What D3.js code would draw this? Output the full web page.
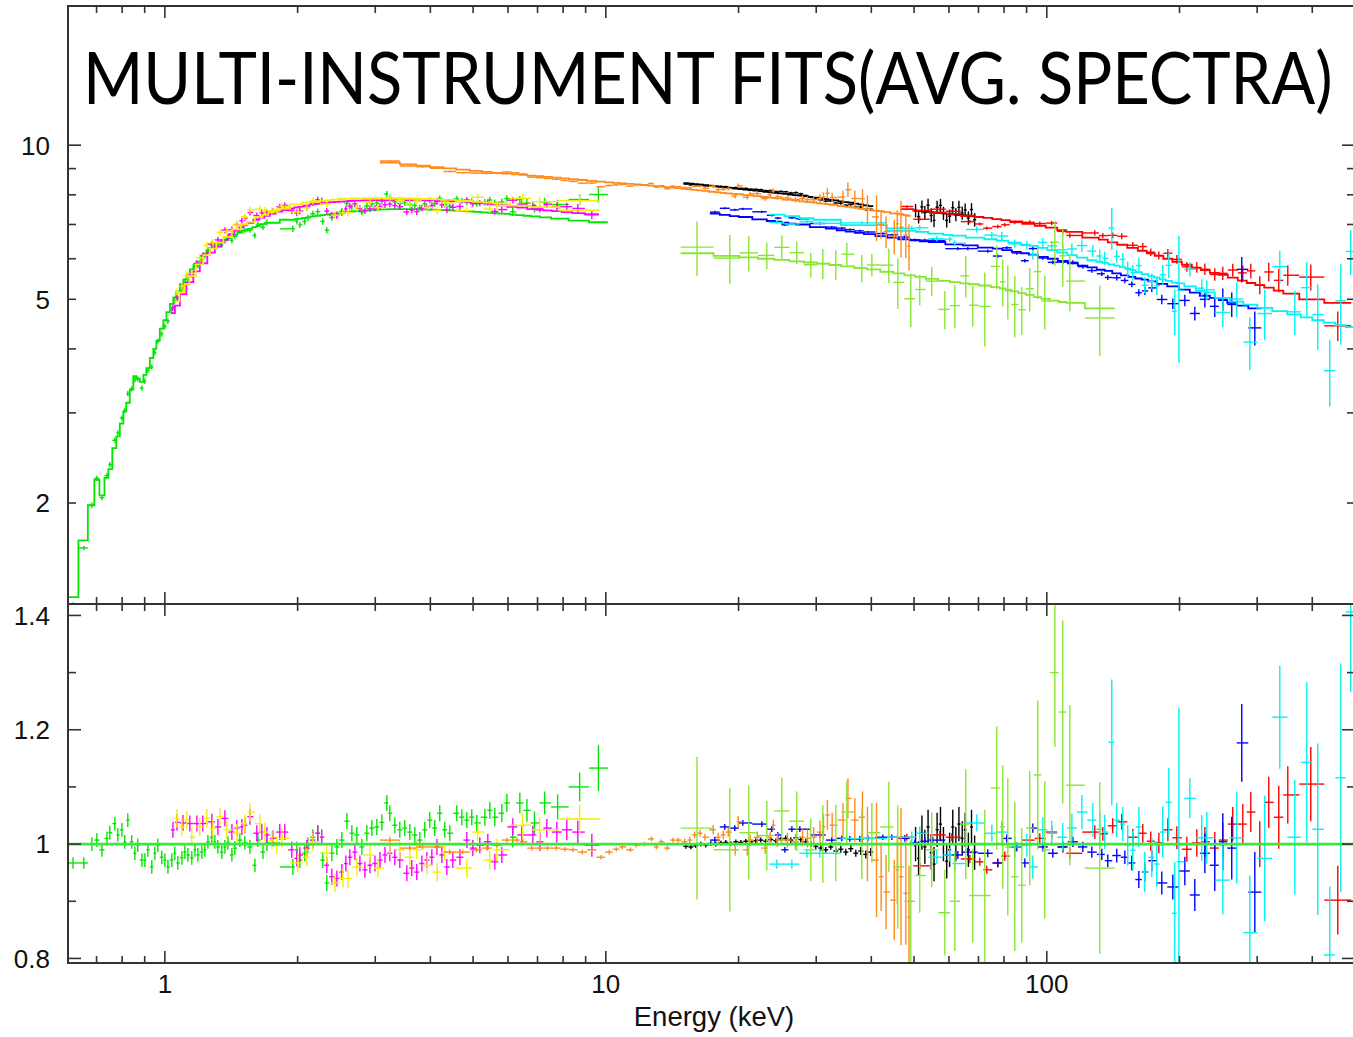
<!DOCTYPE html>
<html><head><meta charset="utf-8">
<script src="https://cdn.jsdelivr.net/npm/d3@7"></script>
<style>body{margin:0;background:#fff}svg{display:block}</style>
</head><body>
<svg id="c" width="1353" height="1037"></svg>
<script>
// ---------------- DATA ----------------
// tick values / labels
const xMajorTicks = [1, 10, 100];
const xMinorTicks = [0.7,0.8,0.9,2,3,4,5,6,7,8,9,20,30,40,50,60,70,80,90,200,300,400];
const xTickLabels = ["1", "10", "100"];
const yTopMajorTicks = [10];
const yTopMinorTicks = [2,3,4,5,6,7,8,9];
const yTopLabelValues = [2, 5, 10];
const yTopLabels = ["2", "5", "10"];
const yBotMajorTicks = [0.8, 1.0, 1.2, 1.4];
const yBotMinorTicks = [0.9, 1.1, 1.3];
const yBotLabels = ["0.8", "1", "1.2", "1.4"];
const titleText = "MULTI-INSTRUMENT FITS(AVG. SPECTRA)";
const xTitle = "Energy (keV)";

// low-energy green
const greenE = [0.619,0.655,0.683,0.701,0.720,0.739,0.750,0.770,0.782,0.799,
0.811,0.824,0.841,0.855,0.868,0.887,0.901,0.915,0.934,0.949,
0.964,0.984,1.000,1.016,1.037,1.053,1.070,1.093,1.110,1.128,
1.151,1.170,1.188,1.213,1.232,1.252,1.278,1.298,1.319,1.346,
1.368,1.390,1.419,1.441,1.479,1.518,1.559,1.600,1.625,1.669,
1.704,1.951,1.992,2.023,2.076,2.110,2.166,2.222,2.281,2.329,
2.391,2.455,2.520,2.587,2.655,2.725,2.797,2.871,2.947,3.025,
3.105,3.187,3.237,3.323,3.410,3.500,3.593,3.688,3.785,3.885,
3.988,4.093,4.201,4.312,4.426,4.592,4.714,4.838,4.966,5.097,
5.316,5.456,5.600,5.810,5.963,6.151,6.383,6.623,6.888,7.264,
7.775,8.723,9.620];
const greenRatio = [0.967,0.967,1.000,1.007,0.990,1.010,1.020,1.036,1.016,1.025,
1.004,1.042,1.004,0.984,0.998,0.972,0.972,0.990,0.960,0.984,
0.998,0.977,0.972,0.960,0.972,0.984,0.967,0.976,0.986,0.981,
0.976,0.990,0.981,0.986,0.990,1.004,1.012,1.004,0.995,0.986,
0.995,1.002,0.981,0.993,1.007,1.002,0.995,0.963,1.007,0.986,
1.002,0.960,0.990,0.972,0.984,0.998,1.012,1.019,0.972,0.932,
0.984,0.995,1.007,1.040,1.019,1.016,0.995,1.019,1.028,1.030,
1.038,1.072,1.054,1.033,1.025,1.028,1.021,1.016,1.007,1.025,
1.042,1.028,1.054,1.025,1.019,1.054,1.047,1.042,1.047,1.037,
1.047,1.059,1.047,1.054,1.072,1.012,1.072,1.059,1.037,1.072,
1.065,1.100,1.133];
const greenErr = [0.010,0.010,0.012,0.012,0.012,0.012,0.012,0.012,0.012,0.012,
0.012,0.012,0.012,0.012,0.012,0.012,0.012,0.012,0.012,0.012,
0.012,0.012,0.012,0.012,0.012,0.012,0.012,0.012,0.012,0.012,
0.012,0.012,0.012,0.012,0.012,0.012,0.012,0.012,0.012,0.012,
0.012,0.012,0.012,0.012,0.012,0.012,0.012,0.012,0.012,0.012,
0.014,0.014,0.014,0.014,0.014,0.014,0.014,0.014,0.014,0.014,
0.014,0.014,0.014,0.014,0.014,0.014,0.014,0.014,0.014,0.014,
0.014,0.014,0.014,0.014,0.014,0.014,0.014,0.014,0.014,0.014,
0.014,0.014,0.014,0.014,0.014,0.014,0.014,0.014,0.014,0.014,
0.015,0.015,0.016,0.016,0.016,0.018,0.018,0.020,0.020,0.020,
0.022,0.025,0.040];
const greenModel = [1.31,1.69,1.98,2.22,2.07,2.24,2.33,2.56,2.70,2.86,
3.02,3.14,3.33,3.54,3.50,3.45,3.56,3.67,3.84,4.00,
4.15,4.38,4.55,4.72,4.90,5.04,5.18,5.35,5.47,5.58,
5.72,5.83,5.93,6.05,6.14,6.22,6.30,6.36,6.42,6.48,
6.53,6.58,6.64,6.68,6.75,6.81,6.86,6.92,6.96,7.01,
7.05,7.15,7.17,7.19,7.21,7.23,7.26,7.28,7.30,7.32,
7.34,7.36,7.38,7.40,7.42,7.43,7.44,7.46,7.47,7.48,
7.49,7.49,7.50,7.50,7.50,7.50,7.50,7.50,7.49,7.49,
7.48,7.48,7.47,7.47,7.46,7.45,7.44,7.43,7.42,7.41,
7.39,7.38,7.37,7.35,7.34,7.32,7.30,7.28,7.26,7.23,
7.19,7.12,7.07];

// magenta
const magentaE = [1.043,1.065,1.099,1.139,1.182,1.219,1.278,1.319,1.368,1.419,
1.456,1.495,1.518,1.559,1.616,1.659,1.704,1.757,1.822,1.870,
1.940,1.992,2.023,2.099,2.166,2.222,2.269,2.329,2.391,2.455,
2.520,2.573,2.627,2.697,2.769,2.842,2.918,2.995,3.075,3.156,
3.237,3.323,3.410,3.537,3.630,3.726,3.827,3.927,4.031,4.139,
4.247,4.360,4.498,4.668,4.839,4.993,5.179,5.400,5.602,5.809,
6.153,6.449,6.831,7.087,7.348,7.743,8.157,8.640,9.296];
const magentaRatio = [1.025,1.038,1.037,1.036,1.036,1.036,1.039,1.030,1.045,1.021,
1.028,1.030,1.033,1.048,1.019,1.021,1.016,1.010,1.021,1.021,
0.990,0.975,0.981,0.993,1.007,1.019,1.012,0.963,0.943,0.940,
0.951,0.966,0.977,0.986,0.966,0.955,0.963,0.966,0.972,0.981,
0.984,0.977,0.972,0.949,0.958,0.951,0.966,0.972,0.977,0.995,
0.981,0.960,0.972,0.977,1.007,0.993,0.998,1.004,0.969,0.981,
1.030,1.016,1.016,1.004,1.028,1.021,1.025,1.021,0.998];
const magentaErr = [0.014,0.014,0.014,0.014,0.014,0.014,0.014,0.014,0.014,0.014,
0.014,0.014,0.014,0.014,0.014,0.014,0.014,0.014,0.014,0.014,
0.014,0.014,0.014,0.014,0.014,0.014,0.014,0.014,0.014,0.014,
0.014,0.014,0.014,0.014,0.014,0.014,0.014,0.014,0.014,0.014,
0.014,0.014,0.014,0.014,0.014,0.014,0.014,0.014,0.014,0.014,
0.014,0.014,0.014,0.014,0.014,0.014,0.014,0.014,0.014,0.014,
0.015,0.015,0.016,0.016,0.016,0.018,0.018,0.020,0.020];
const magentaModel = [4.70,4.86,5.12,5.40,5.67,5.88,6.17,6.34,6.53,6.70,
6.81,6.91,6.97,7.05,7.15,7.22,7.28,7.35,7.42,7.47,
7.52,7.56,7.58,7.62,7.66,7.68,7.70,7.72,7.74,7.75,
7.76,7.77,7.78,7.79,7.79,7.80,7.80,7.80,7.80,7.80,
7.80,7.80,7.80,7.80,7.80,7.80,7.80,7.80,7.80,7.80,
7.79,7.79,7.78,7.77,7.76,7.74,7.72,7.69,7.66,7.63,
7.58,7.55,7.50,7.48,7.46,7.43,7.40,7.37,7.33];

// yellow
const yellowE = [1.065,1.093,1.122,1.151,1.200,1.245,1.285,1.333,1.382,1.456,
1.518,1.559,1.642,1.686,1.749,1.794,1.843,2.003,2.099,2.166,
2.329,2.430,2.534,2.600,2.725,2.918,3.043,3.237,3.410,3.593,
3.726,3.936,4.146,4.312,4.838,5.123,5.456,5.659,6.479,7.075,
8.723];
const yellowRatio = [1.045,1.030,1.042,1.012,1.030,1.045,1.028,1.048,1.025,1.019,
1.036,1.056,1.036,1.021,1.007,0.998,1.010,0.967,0.977,1.004,
0.984,0.932,0.940,0.940,0.960,0.981,0.958,0.998,0.990,0.977,
0.990,0.963,0.951,0.986,0.958,1.021,0.972,0.990,1.033,1.025,
1.044];
const yellowErr = [0.016,0.016,0.016,0.016,0.016,0.016,0.016,0.016,0.016,0.016,
0.016,0.016,0.016,0.016,0.016,0.016,0.016,0.016,0.016,0.016,
0.016,0.016,0.016,0.016,0.016,0.016,0.016,0.016,0.016,0.016,
0.016,0.016,0.016,0.016,0.016,0.016,0.016,0.020,0.022,0.022,
0.025];
const yellowModel = [4.95,5.15,5.35,5.55,5.85,6.10,6.28,6.45,6.62,6.85,
7.00,7.08,7.24,7.31,7.40,7.46,7.52,7.66,7.72,7.75,
7.80,7.83,7.85,7.86,7.87,7.88,7.88,7.88,7.88,7.87,
7.86,7.85,7.84,7.82,7.78,7.75,7.72,7.70,7.62,7.57,
7.46];

// orange
const orangeE = [3.239,3.593,3.843,4.146,4.426,4.736,5.097,5.369,5.659,5.963,
6.283,6.479,6.794,7.075,7.371,7.722,8.074,8.428,8.843,9.288,
9.755,10.18,10.56,10.89,11.37,11.73,12.24,12.69,13.02,13.35,
13.79,14.20,14.60,15.10,15.50,15.90,16.35,16.78,17.52,17.98,
18.46,18.95,19.65,19.96,20.93,21.25,22.05,22.98,23.58,23.98,
24.49,25.81,26.93,27.93,28.66,29.60,30.60,31.16,31.80,32.60,
34.50,35.40,36.70,38.20,39.20,41.10,42.10,43.20,45.10,45.80,
46.70,47.90,48.70];
const orangeRatio = [1.007,0.993,0.995,0.995,0.986,0.986,0.990,0.993,0.998,1.007,
1.007,1.004,0.993,0.993,0.993,0.993,0.991,0.990,0.986,0.990,
0.977,0.986,0.991,0.995,0.990,0.998,1.000,1.009,0.995,1.004,
0.993,1.007,1.007,1.004,1.007,1.016,1.019,1.012,1.025,1.012,
1.016,1.021,0.990,1.039,0.990,1.007,1.012,0.993,1.012,1.033,
1.007,1.007,1.004,1.012,1.010,1.012,1.021,1.030,1.051,1.033,
1.042,1.080,1.042,1.047,1.000,0.972,0.943,0.916,0.902,0.955,
0.943,0.914,0.872];
const orangeErr = [0.004,0.004,0.004,0.004,0.004,0.004,0.004,0.004,0.004,0.004,
0.004,0.004,0.004,0.004,0.004,0.004,0.004,0.004,0.004,0.004,
0.004,0.004,0.004,0.004,0.004,0.004,0.004,0.004,0.004,0.004,
0.004,0.004,0.004,0.006,0.006,0.006,0.006,0.006,0.008,0.008,
0.008,0.008,0.010,0.010,0.010,0.010,0.010,0.010,0.010,0.010,
0.012,0.013,0.014,0.015,0.016,0.018,0.020,0.022,0.026,0.022,
0.030,0.035,0.038,0.045,0.065,0.100,0.060,0.065,0.070,0.060,
0.120,0.090,0.090];
const orangeModel = [9.25,9.17,9.12,9.06,9.01,8.96,8.91,8.87,8.83,8.80,
8.77,8.75,8.72,8.70,8.67,8.64,8.61,8.58,8.55,8.52,
8.49,8.46,8.44,8.42,8.40,8.38,8.36,8.34,8.32,8.30,
8.28,8.26,8.24,8.22,8.20,8.18,8.16,8.14,8.11,8.09,
8.07,8.05,8.03,8.02,7.99,7.98,7.95,7.92,7.90,7.89,
7.87,7.83,7.80,7.77,7.75,7.73,7.70,7.69,7.67,7.65,
7.60,7.58,7.55,7.51,7.49,7.45,7.43,7.40,7.36,7.35,
7.33,7.30,7.28];

// black (two groups)
const black1E = [15.19,15.59,16.00,16.42,16.86,17.30,17.76,18.23,18.71,19.20,
19.72,20.24,20.77,21.32,21.88,22.46,23.06,23.67,24.29,24.94,
25.59,26.27,26.97,27.68,28.41,29.16,29.93,30.73,31.54,32.37,
33.23,34.11,35.01,35.94,36.89,37.86,38.87,39.89];
const black1Ratio = [0.996,0.995,0.997,1.000,0.998,1.001,1.000,1.002,1.003,1.001,
1.004,1.003,1.005,1.004,1.006,1.007,1.005,1.008,1.006,1.009,
1.010,1.007,1.011,1.008,1.004,1.000,0.996,0.993,0.990,0.995,
0.988,0.991,0.986,0.992,0.984,0.988,0.982,0.986];
const black1Err = [0.004,0.004,0.004,0.004,0.004,0.004,0.004,0.004,0.004,0.004,
0.004,0.004,0.004,0.004,0.004,0.004,0.004,0.004,0.004,0.004,
0.005,0.005,0.005,0.005,0.005,0.005,0.005,0.005,0.005,0.005,
0.006,0.006,0.006,0.006,0.006,0.007,0.007,0.007];
const black1Model = [8.43,8.41,8.39,8.37,8.35,8.33,8.31,8.29,8.27,8.25,
8.23,8.21,8.19,8.17,8.15,8.13,8.11,8.09,8.07,8.05,
8.03,8.01,7.99,7.97,7.94,7.92,7.90,7.87,7.85,7.82,
7.80,7.77,7.74,7.72,7.69,7.66,7.63,7.60];
const black2E = [50.4,51.2,52.1,52.9,53.8,54.7,55.5,56.4,57.4,58.3,
59.3,60.2,61.2,62.2,63.2,64.3,65.3,66.4,67.5,68.6];
const black2Ratio = [1.000,0.975,1.020,0.995,1.030,0.985,0.965,1.025,1.035,1.000,
0.970,0.990,1.030,1.000,1.035,1.010,1.025,0.990,1.030,0.985];
const black2Err = [0.030,0.030,0.030,0.030,0.030,0.030,0.030,0.030,0.030,0.030,
0.030,0.030,0.030,0.030,0.030,0.030,0.030,0.030,0.030,0.030];
const black2Model = [7.45,7.44,7.43,7.42,7.41,7.40,7.39,7.38,7.37,7.36,
7.35,7.34,7.33,7.32,7.31,7.30,7.29,7.28,7.27,7.26];

// blue
const blueE = [17.67,18.61,19.61,20.45,22.58,23.79,24.55,25.47,26.42,27.54,
30.57,32.54,34.29,35.75,37.67,39.28,42.48,44.52,47.64,50.19,
52.89,55.14,62.84,66.21,73.48,77.43,81.15,85.51,89.17,92.96,
97.94,103.2,108.7,114.6,120.7,126.5,133.3,137.5,144.1,150.3,
155.9,161.7,166.8,173.0,182.3,193.1,205.6,216.6,228.3,240.4,
250.7,262.7,276.8,296.3];
const blueRatio = [1.007,1.030,1.028,1.037,1.035,1.026,1.016,0.990,1.026,1.026,
1.016,1.007,1.010,1.009,1.009,1.010,1.012,1.012,1.010,1.002,
1.005,1.007,0.981,0.986,0.984,0.967,1.010,0.995,0.967,1.028,
0.995,0.984,0.995,1.004,0.995,0.986,0.982,0.971,0.980,0.977,
0.967,0.938,0.951,0.971,0.932,0.925,0.953,0.911,0.984,0.963,
1.004,0.993,1.177,0.916];
const blueErr = [0.006,0.005,0.005,0.005,0.005,0.005,0.005,0.005,0.005,0.005,
0.005,0.005,0.005,0.005,0.005,0.005,0.005,0.005,0.006,0.006,
0.006,0.006,0.007,0.007,0.007,0.007,0.007,0.008,0.008,0.008,
0.008,0.008,0.009,0.009,0.009,0.010,0.010,0.011,0.012,0.012,
0.013,0.015,0.017,0.018,0.020,0.022,0.025,0.028,0.035,0.045,
0.050,0.055,0.068,0.070];
const blueModel = [7.35,7.31,7.27,7.24,7.16,7.11,7.09,7.06,7.03,7.00,
6.92,6.87,6.82,6.78,6.74,6.70,6.64,6.60,6.55,6.52,
6.49,6.47,6.40,6.37,6.31,6.28,6.24,6.19,6.15,6.11,
6.05,6.00,5.94,5.88,5.82,5.77,5.71,5.68,5.62,5.57,
5.53,5.49,5.46,5.42,5.36,5.30,5.22,5.15,5.08,5.03,
4.98,4.92,4.86,4.80];

// cyan
const cyanE = [24.42,26.42,28.57,30.57,38.07,49.41,51.52,56.31,60.26,61.86,
69.39,75.05,79.07,84.61,90.11,92.96,97.94,102.6,108.7,114.0,
120.1,127.2,131.9,135.3,140.4,144.1,148.7,152.6,156.7,161.7,
166.8,173.0,177.6,183.2,189.1,195.1,199.3,211.1,224.6,230.6,
250.7,269.7,288.7,312.1,337.6,365.1,388.7,411.6,438.2,464.2,
489.0];
const cyanRatio = [0.965,0.965,0.984,0.984,1.010,1.012,1.019,0.977,0.981,0.966,
1.037,1.019,1.021,0.995,0.998,0.960,1.025,1.019,1.012,1.028,
1.056,1.042,1.026,1.021,1.178,1.042,1.035,0.998,0.989,1.030,
0.951,0.977,0.965,1.021,1.073,0.879,0.969,1.080,1.011,1.011,
0.937,1.011,0.845,0.975,1.222,1.012,1.143,1.026,0.806,1.116,
1.406];
const cyanErr = [0.008,0.008,0.008,0.008,0.008,0.010,0.012,0.012,0.012,0.012,
0.015,0.015,0.020,0.018,0.020,0.020,0.022,0.022,0.025,0.025,
0.030,0.030,0.030,0.030,0.110,0.030,0.030,0.035,0.035,0.035,
0.035,0.035,0.040,0.045,0.060,0.090,0.270,0.035,0.040,0.045,
0.060,0.080,0.100,0.110,0.090,0.100,0.140,0.150,0.120,0.200,
0.140];
const cyanModel = [7.32,7.27,7.20,7.15,6.98,6.80,6.77,6.72,6.68,6.66,
6.60,6.55,6.51,6.45,6.39,6.36,6.30,6.24,6.17,6.10,
6.03,5.96,5.92,5.89,5.85,5.82,5.78,5.74,5.70,5.65,
5.60,5.55,5.51,5.47,5.43,5.39,5.37,5.30,5.20,5.16,
5.03,4.95,4.88,4.81,4.74,4.67,4.61,4.55,4.50,4.45,
4.41];

// red
const redE = [48.14,51.52,57.20,60.89,66.91,70.49,73.10,77.43,80.30,84.61,
91.49,96.41,102.6,108.7,112.8,128.5,134.0,141.1,147.9,156.7,
165.1,172.1,179.5,188.2,197.2,207.8,218.9,228.3,240.4,250.7,
264.1,278.3,290.2,304.1,318.7,335.8,352.0,396.9,457.0];
const redRatio = [1.012,0.962,1.016,1.012,0.974,0.969,0.955,0.967,0.979,0.995,
1.007,1.010,1.021,0.995,0.984,1.021,1.018,1.032,1.039,1.012,
1.019,1.005,1.002,1.025,1.011,0.991,1.002,1.004,0.993,1.007,
1.035,1.035,1.056,1.000,1.073,1.047,1.086,1.105,0.902];
const redErr = [0.006,0.006,0.007,0.007,0.007,0.007,0.007,0.008,0.008,0.008,
0.009,0.009,0.010,0.010,0.010,0.012,0.012,0.013,0.014,0.015,
0.016,0.017,0.018,0.020,0.020,0.022,0.024,0.026,0.028,0.030,
0.030,0.035,0.035,0.040,0.045,0.055,0.050,0.065,0.060];
const redModel = [7.50,7.45,7.38,7.34,7.28,7.24,7.21,7.17,7.14,7.10,
7.02,6.96,6.90,6.82,6.77,6.60,6.54,6.46,6.39,6.30,
6.22,6.15,6.08,6.00,5.92,5.84,5.76,5.70,5.63,5.58,
5.51,5.44,5.38,5.33,5.27,5.20,5.13,5.00,4.92];

// yellow-green (large error bars)
const limeE = [16.10,19.11,21.10,23.18,25.07,27.11,29.16,31.05,33.23,35.20,
38.07,40.11,43.83,45.94,49.16,51.52,54.85,58.71,61.86,65.52,
67.95,72.34,77.02,79.46,81.58,84.61,87.77,91.49,95.42,98.97,
104.3,108.7,112.8,131.9];
const limeRatio = [1.028,0.990,1.020,1.015,1.058,1.040,0.990,1.000,1.002,1.056,
1.000,1.020,1.030,0.960,0.900,0.945,0.990,0.880,0.900,1.035,
0.910,0.910,1.098,1.030,0.995,0.943,0.928,1.028,1.121,0.990,
1.300,1.231,1.103,0.958];
const limeErr = [0.125,0.108,0.082,0.061,0.058,0.052,0.055,0.068,0.067,0.054,
0.061,0.052,0.079,0.108,0.108,0.065,0.065,0.075,0.087,0.096,
0.082,0.150,0.108,0.108,0.120,0.130,0.100,0.100,0.130,0.120,
0.130,0.160,0.140,0.150];
const limeModel = [6.15,6.08,6.04,6.00,5.97,5.93,5.90,5.87,5.83,5.80,
5.75,5.72,5.66,5.62,5.57,5.53,5.48,5.43,5.40,5.37,
5.35,5.32,5.28,5.25,5.22,5.18,5.14,5.10,5.05,5.01,
4.97,4.94,4.92,4.80];

// ---------------- DRAWING ----------------
const X0 = 68, X1 = 1355, YT0 = 6, YMID = 604, YB1 = 963;
const svg = d3.select("#c");
const x = d3.scaleLog().domain([0.603, 500]).range([X0, X1]);
const yT = d3.scaleLog().domain([1.27, 18.7]).range([YMID, YT0]);
const yB = d3.scaleLinear().domain([0.792, 1.42]).range([YB1, YMID]);

const defs = svg.append("defs");
defs.append("clipPath").attr("id","ct").append("rect")
  .attr("x",X0).attr("y",YT0).attr("width",X1-X0).attr("height",YMID-YT0);
defs.append("clipPath").attr("id","cb").append("rect")
  .attr("x",X0).attr("y",YMID).attr("width",X1-X0).attr("height",YB1-YMID);

const gT = svg.append("g").attr("clip-path","url(#ct)");
const gB = svg.append("g").attr("clip-path","url(#cb)");

function binEdges(E){
  const n = E.length, lo = new Array(n), hi = new Array(n);
  for (let i=0;i<n-1;i++) hi[i] = Math.sqrt(E[i]*E[i+1]);
  for (let i=1;i<n;i++) lo[i] = hi[i-1];
  lo[0] = E[0]*E[0]/hi[0];
  hi[n-1] = E[n-1]*E[n-1]/lo[n-1];
  return {lo, hi};
}

const seriesList = [
  {c:"#000000", E:black1E, m:black1Model, r:black1Ratio, e:black1Err},
  {c:"#000000", E:black2E, m:black2Model, r:black2Ratio, e:black2Err},
  {c:"#ff0000", E:redE, m:redModel, r:redRatio, e:redErr},
  {c:"#00e600", E:greenE, m:greenModel, r:greenRatio, e:greenErr},
  {c:"#0000ff", E:blueE, m:blueModel, r:blueRatio, e:blueErr},
  {c:"#00f2f2", E:cyanE, m:cyanModel, r:cyanRatio, e:cyanErr},
  {c:"#ff00ff", E:magentaE, m:magentaModel, r:magentaRatio, e:magentaErr},
  {c:"#f5ee00", E:yellowE, m:yellowModel, r:yellowRatio, e:yellowErr},
  {c:"#ff8a1e", E:orangeE, m:orangeModel, r:orangeRatio, e:orangeErr},
  {c:"#88e633", E:limeE, m:limeModel, r:limeRatio, e:limeErr}
];

const stepLine = d3.line().x(d => x(d[0])).y(d => yT(d[1]));

seriesList.forEach(s => {
  const {lo, hi} = binEdges(s.E);
  const pts = s.E.map((E,i) => ({E, lo:lo[i], hi:hi[i], m:s.m[i], r:s.r[i], e:s.e[i]}));
  // model (top panel)
  gT.append("path")
    .attr("d", stepLine(pts.flatMap(p => [[p.lo,p.m],[p.hi,p.m]])))
    .attr("fill","none").attr("stroke",s.c).attr("stroke-width",1.8);
  // data (top panel)
  const g1 = gT.append("g").attr("stroke",s.c).attr("stroke-width",1.4);
  g1.selectAll("line.h").data(pts).join("line").attr("class","h")
    .attr("x1",p=>x(p.lo)).attr("x2",p=>x(p.hi))
    .attr("y1",p=>yT(p.m*p.r)).attr("y2",p=>yT(p.m*p.r));
  g1.selectAll("line.v").data(pts).join("line").attr("class","v")
    .attr("x1",p=>x(p.E)).attr("x2",p=>x(p.E))
    .attr("y1",p=>yT(p.m*(p.r-p.e))).attr("y2",p=>yT(p.m*(p.r+p.e)));
  // ratio (bottom panel)
  const g2 = gB.append("g").attr("stroke",s.c).attr("stroke-width",1.4);
  g2.selectAll("line.h").data(pts).join("line").attr("class","h")
    .attr("x1",p=>x(p.lo)).attr("x2",p=>x(p.hi))
    .attr("y1",p=>yB(p.r)).attr("y2",p=>yB(p.r));
  g2.selectAll("line.v").data(pts).join("line").attr("class","v")
    .attr("x1",p=>x(p.E)).attr("x2",p=>x(p.E))
    .attr("y1",p=>yB(p.r-p.e)).attr("y2",p=>yB(p.r+p.e));
});

// unity line in ratio panel
gB.append("line").attr("x1",x(0.603)).attr("x2",x(500))
  .attr("y1",yB(1)).attr("y2",yB(1))
  .attr("stroke","#3aea3a").attr("stroke-width",2.6);

// ---------------- AXES ----------------
const ax = svg.append("g").attr("stroke","#333").attr("fill","none");
ax.append("rect").attr("x",X0).attr("y",YT0).attr("width",X1-X0).attr("height",YMID-YT0).attr("stroke-width",2);
ax.append("rect").attr("x",X0).attr("y",YMID).attr("width",X1-X0).attr("height",YB1-YMID).attr("stroke-width",2);

const tk = ax.append("g").attr("stroke-width",1.6);
[{y:YT0,d:1},{y:YMID,d:-1},{y:YMID,d:1},{y:YB1,d:-1}].forEach(a => {
  xMajorTicks.forEach(v => tk.append("line").attr("x1",x(v)).attr("x2",x(v)).attr("y1",a.y).attr("y2",a.y+a.d*12));
  xMinorTicks.forEach(v => tk.append("line").attr("x1",x(v)).attr("x2",x(v)).attr("y1",a.y).attr("y2",a.y+a.d*7));
});
[{x:X0,d:1},{x:X1,d:-1}].forEach(a => {
  yTopMajorTicks.forEach(v => tk.append("line").attr("x1",a.x).attr("x2",a.x+a.d*13).attr("y1",yT(v)).attr("y2",yT(v)));
  yTopMinorTicks.forEach(v => tk.append("line").attr("x1",a.x).attr("x2",a.x+a.d*8).attr("y1",yT(v)).attr("y2",yT(v)));
  yBotMajorTicks.forEach(v => tk.append("line").attr("x1",a.x).attr("x2",a.x+a.d*13).attr("y1",yB(v)).attr("y2",yB(v)));
  yBotMinorTicks.forEach(v => tk.append("line").attr("x1",a.x).attr("x2",a.x+a.d*8).attr("y1",yB(v)).attr("y2",yB(v)));
});

const lab = svg.append("g").attr("font-family","'Liberation Sans', Arial, Helvetica, sans-serif")
  .attr("font-size",26).attr("fill","#111");
xMajorTicks.forEach((v,i) => lab.append("text").attr("x",x(v)).attr("y",993)
  .attr("text-anchor","middle").text(xTickLabels[i]));
yTopLabelValues.forEach((v,i) => lab.append("text").attr("x",50).attr("y",yT(v)).attr("dy","0.36em")
  .attr("text-anchor","end").text(yTopLabels[i]));
yBotMajorTicks.forEach((v,i) => lab.append("text").attr("x",50).attr("y",yB(v)).attr("dy","0.36em")
  .attr("text-anchor","end").text(yBotLabels[i]));
lab.append("text").attr("x",714).attr("y",1026).attr("text-anchor","middle")
  .attr("font-size",27.5).text(xTitle);

// title: natural width fitted to the plot, glyphs stretched vertically to match the cap height
const title = svg.append("text")
  .attr("font-family","Lato, 'Open Sans', 'Noto Sans', sans-serif").attr("font-size",64)
  .attr("fill","#000").text(titleText);
const tw = title.node().getComputedTextLength();
const sx = 1250 / tw;
title.attr("transform", `translate(83,104) scale(${sx},1.11)`);
</script>
</body></html>
